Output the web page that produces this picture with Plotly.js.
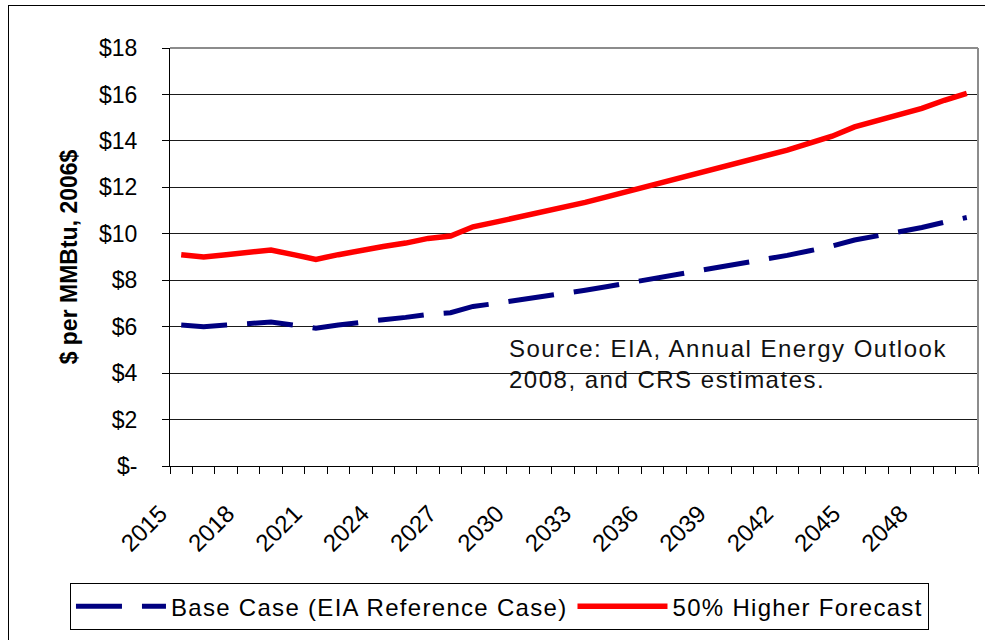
<!DOCTYPE html>
<html>
<head>
<meta charset="utf-8">
<script src="https://cdn.plot.ly/plotly-3.0.1.min.js"></script>
<style>
  html, body { margin: 0; padding: 0; background: #fff; }
  #chart { position: absolute; left: 0; top: 0; width: 985px; height: 640px; }
  #frame { position: absolute; left: 8px; top: 5px; width: 990px; height: 650px; border: 1px solid #000; pointer-events: none; }
  .legendtext { letter-spacing: 1.3px; }
  .annotation-text { letter-spacing: 1.5px; }
</style>
</head>
<body>
<div id="chart"></div>
<div id="frame"></div>
<script>
// ---- data ----
var years = [2015,2016,2017,2018,2019,2020,2021,2022,2023,2024,2025,2026,2027,2028,2029,2030,2031,2032,2033,2034,2035,2036,2037,2038,2039,2040,2041,2042,2043,2044,2045,2046,2047,2048,2049,2050];
var baseCase = [6.07,6.0,6.07,6.13,6.2,6.07,5.93,6.07,6.2,6.3,6.4,6.53,6.6,6.87,7.0,7.13,7.27,7.43,7.57,7.73,7.9,8.03,8.23,8.4,8.53,8.7,8.87,9.07,9.27,9.47,9.73,9.9,10.07,10.27,10.5,10.7];
var higherForecast = [9.1,9.0,9.1,9.2,9.3,9.1,8.9,9.1,9.3,9.45,9.6,9.8,9.9,10.3,10.5,10.7,10.9,11.15,11.35,11.6,11.85,12.05,12.35,12.6,12.8,13.05,13.3,13.6,13.9,14.2,14.6,14.85,15.1,15.4,15.75,16.05];
var seriesNames = ["Base Case (EIA Reference Case)", "50% Higher Forecast"];
var xTickYears = [2015,2018,2021,2024,2027,2030,2033,2036,2039,2042,2045,2048];
var xTickLabels = ["2015","2018","2021","2024","2027","2030","2033","2036","2039","2042","2045","2048"];
var yTickVals = [0,2,4,6,8,10,12,14,16,18];
var yTickLabels = ["$-","$2","$4","$6","$8","$10","$12","$14","$16","$18"];
var yTitle = "$ per MMBtu, 2006$";
var sourceNote = "Source: EIA, Annual Energy Outlook<br>2008, and CRS estimates.";

var FONT = "Liberation Sans, Arial, sans-serif";

var traces = [
  {
    x: years, y: baseCase, name: seriesNames[0], type: "scatter", mode: "lines",
    line: { color: "#000080", width: 5, dash: "46px,20px" }
  },
  {
    x: years, y: higherForecast, name: seriesNames[1], type: "scatter", mode: "lines",
    line: { color: "#FF0000", width: 5.5 }
  }
];

var layout = {
  width: 985, height: 640,
  margin: { l: 170, r: 7, t: 48, b: 174 },
  paper_bgcolor: "rgba(0,0,0,0)",
  plot_bgcolor: "#fff",
  font: { family: FONT, color: "#000", size: 22 },
  showlegend: true,
  legend: {
    orientation: "h",
    x: -0.1238, xanchor: "left",
    y: -0.28, yanchor: "top",
    bordercolor: "#000", borderwidth: 1, bgcolor: "#fff",
    font: { family: FONT, size: 24, color: "#000" },
    itemwidth: 90,
    traceorder: "normal"
  },
  xaxis: {
    type: "linear",
    range: [2014.5, 2050.5],
    tickmode: "array", tickvals: xTickYears, ticktext: xTickLabels,
    tickangle: -45,
    ticks: "outside", ticklen: 7, tickcolor: "rgba(0,0,0,0)",
    tickfont: { family: FONT, size: 24, color: "#000" },
    ticklabelstandoff: 16,
    ticklabelshift: -21,
    minor: { tickmode: "linear", tick0: 2014.5, dtick: 1, ticks: "outside", ticklen: 7, tickcolor: "#000", tickwidth: 1, showgrid: false },
    showgrid: false, zeroline: false,
    showline: true, linecolor: "#000", linewidth: 1,
    fixedrange: true
  },
  yaxis: {
    range: [0, 18],
    tickmode: "array", tickvals: yTickVals, ticktext: yTickLabels,
    ticks: "outside", ticklen: 7, tickcolor: "#000",
    tickfont: { family: FONT, size: 23, color: "#000" },
    ticklabelstandoff: 20,
    showgrid: true, gridcolor: "#1a1a1a", gridwidth: 1,
    zeroline: false,
    showline: true, linecolor: "#000", linewidth: 1,
    title: { text: yTitle, font: { family: FONT, size: 23, weight: "bold", color: "#000" }, standoff: 14 },
    fixedrange: true
  },
  shapes: [
    { type: "line", xref: "paper", yref: "paper", x0: 0, x1: 1, y0: 1, y1: 1, line: { color: "#8c8c8c", width: 2 } },
    { type: "line", xref: "paper", yref: "paper", x0: 1, x1: 1, y0: 0, y1: 1, line: { color: "#8c8c8c", width: 2 } }
  ],
  annotations: [
    {
      xref: "paper", yref: "paper", x: 0.417, y: 0.245,
      xanchor: "left", yanchor: "middle", align: "left",
      text: sourceNote, showarrow: false,
      font: { family: FONT, size: 24, color: "#111" }
    }
  ]
};

Plotly.newPlot("chart", traces, layout, { displayModeBar: false, staticPlot: true });
</script>
</body>
</html>
